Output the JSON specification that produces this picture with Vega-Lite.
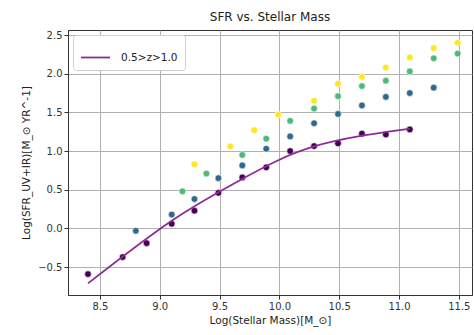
{
  "$schema": "https://vega.github.io/schema/vega-lite/v6.json",
  "width": 404,
  "height": 265,
  "autosize": {"type": "none"},
  "padding": {"left": 68, "top": 30, "right": 2, "bottom": 40},
  "title": {"text": "SFR vs. Stellar Mass", "font": "DejaVu Sans", "fontSize": 12, "fontWeight": "normal", "color": "#222", "offset": 6},
  "config": {
    "view": {"stroke": "#333", "strokeWidth": 1},
    "axis": {
      "labelFont": "DejaVu Sans", "labelFontSize": 10, "labelColor": "#333",
      "titleFont": "DejaVu Sans", "titleFontSize": 10.5, "titleFontWeight": "normal", "titleColor": "#222",
      "gridColor": "#b0b0b0", "gridWidth": 1, "gridOpacity": 1,
      "domainColor": "#333", "tickColor": "#333", "tickSize": 4
    }
  },
  "datasets": {
    "pts": [
      {"m": 8.40, "sfr": -0.59, "g": "a"},
      {"m": 8.69, "sfr": -0.37, "g": "a"},
      {"m": 8.89, "sfr": -0.19, "g": "a"},
      {"m": 9.10, "sfr": 0.06, "g": "a"},
      {"m": 9.29, "sfr": 0.23, "g": "a"},
      {"m": 9.49, "sfr": 0.46, "g": "a"},
      {"m": 9.69, "sfr": 0.66, "g": "a"},
      {"m": 9.89, "sfr": 0.79, "g": "a"},
      {"m": 10.09, "sfr": 1.0, "g": "a"},
      {"m": 10.29, "sfr": 1.065, "g": "a"},
      {"m": 10.49, "sfr": 1.10, "g": "a"},
      {"m": 10.69, "sfr": 1.225, "g": "a"},
      {"m": 10.89, "sfr": 1.216, "g": "a"},
      {"m": 11.09, "sfr": 1.28, "g": "a"},
      {"m": 8.80, "sfr": -0.03, "g": "b"},
      {"m": 9.10, "sfr": 0.18, "g": "b"},
      {"m": 9.29, "sfr": 0.38, "g": "b"},
      {"m": 9.49, "sfr": 0.65, "g": "b"},
      {"m": 9.69, "sfr": 0.815, "g": "b"},
      {"m": 9.89, "sfr": 1.03, "g": "b"},
      {"m": 10.09, "sfr": 1.19, "g": "b"},
      {"m": 10.29, "sfr": 1.36, "g": "b"},
      {"m": 10.49, "sfr": 1.48, "g": "b"},
      {"m": 10.69, "sfr": 1.59, "g": "b"},
      {"m": 10.89, "sfr": 1.70, "g": "b"},
      {"m": 11.09, "sfr": 1.75, "g": "b"},
      {"m": 11.29, "sfr": 1.82, "g": "b"},
      {"m": 9.19, "sfr": 0.48, "g": "c"},
      {"m": 9.39, "sfr": 0.71, "g": "c"},
      {"m": 9.69, "sfr": 0.95, "g": "c"},
      {"m": 9.89, "sfr": 1.16, "g": "c"},
      {"m": 10.09, "sfr": 1.39, "g": "c"},
      {"m": 10.29, "sfr": 1.55, "g": "c"},
      {"m": 10.49, "sfr": 1.71, "g": "c"},
      {"m": 10.69, "sfr": 1.84, "g": "c"},
      {"m": 10.89, "sfr": 1.91, "g": "c"},
      {"m": 11.09, "sfr": 2.03, "g": "c"},
      {"m": 11.29, "sfr": 2.20, "g": "c"},
      {"m": 11.49, "sfr": 2.26, "g": "c"},
      {"m": 9.29, "sfr": 0.83, "g": "d"},
      {"m": 9.59, "sfr": 1.06, "g": "d"},
      {"m": 9.79, "sfr": 1.27, "g": "d"},
      {"m": 9.99, "sfr": 1.47, "g": "d"},
      {"m": 10.29, "sfr": 1.65, "g": "d"},
      {"m": 10.49, "sfr": 1.87, "g": "d"},
      {"m": 10.69, "sfr": 1.96, "g": "d"},
      {"m": 10.89, "sfr": 2.08, "g": "d"},
      {"m": 11.09, "sfr": 2.21, "g": "d"},
      {"m": 11.29, "sfr": 2.33, "g": "d"},
      {"m": 11.49, "sfr": 2.40, "g": "d"}
    ],
    "fit": [
      {"m": 8.40, "sfr": -0.71, "s": "0.5>z>1.0"},
      {"m": 9.10, "sfr": 0.10, "s": "0.5>z>1.0"},
      {"m": 9.69, "sfr": 0.64, "s": "0.5>z>1.0"},
      {"m": 10.29, "sfr": 1.06, "s": "0.5>z>1.0"},
      {"m": 11.09, "sfr": 1.29, "s": "0.5>z>1.0"}
    ]
  },
  "encoding": {
    "x": {"field": "m", "type": "quantitative",
      "scale": {"domain": [8.233, 11.61], "nice": false, "zero": false},
      "axis": {"values": [8.5, 9.0, 9.5, 10.0, 10.5, 11.0, 11.5], "format": ".1f", "title": "Log(Stellar Mass)[M_⊙]", "titlePadding": 4}},
    "y": {"field": "sfr", "type": "quantitative",
      "scale": {"domain": [-0.86, 2.565], "nice": false, "zero": false},
      "axis": {"values": [-0.5, 0.0, 0.5, 1.0, 1.5, 2.0, 2.5], "format": ".1f", "title": "Log(SFR_UV+IR)[M_⊙ YR^-1]", "titlePadding": 6}}
  },
  "layer": [
    {
      "data": {"name": "pts"},
      "mark": {"type": "circle", "size": 45, "opacity": 1, "stroke": "white", "strokeWidth": 0.6},
      "encoding": {
        "fill": {"field": "g", "type": "nominal",
          "scale": {"domain": ["a", "b", "c", "d"], "range": ["#440154", "#31688e", "#4fba78", "#fde725"]},
          "legend": null}
      }
    },
    {
      "data": {"name": "fit"},
      "mark": {"type": "line", "interpolate": "natural", "strokeWidth": 1.8},
      "encoding": {
        "stroke": {"field": "s", "type": "nominal",
          "scale": {"domain": ["0.5>z>1.0"], "range": ["#8c2d96"]},
          "legend": {"title": null, "orient": "top-left", "offset": 5, "symbolType": "stroke", "symbolSize": 840, "symbolStrokeWidth": 1.8,
            "labelFont": "DejaVu Sans", "labelFontSize": 10.5, "labelColor": "#222", "labelOffset": 10,
            "fillColor": "white", "strokeColor": "#d0d0d0", "cornerRadius": 3, "padding": 7}}
      }
    }
  ]
}
